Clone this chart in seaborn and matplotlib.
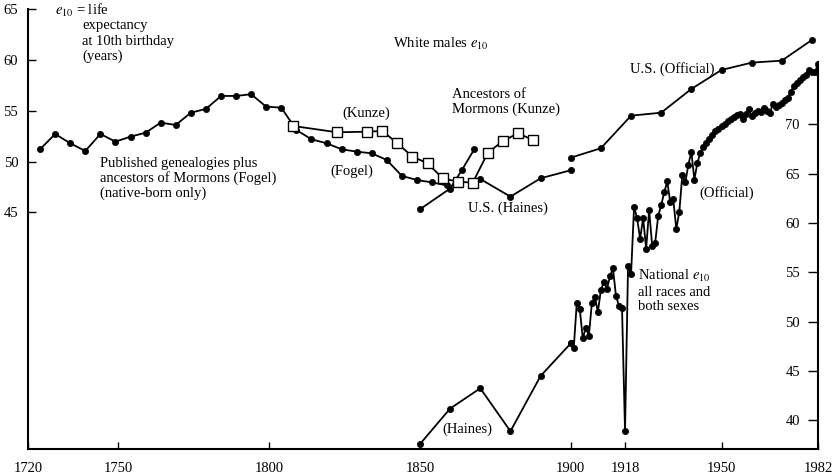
import numpy as np
import pandas as pd
import matplotlib
matplotlib.use("Agg")
import matplotlib.pyplot as plt
import seaborn as sns

# ---------------- data ----------------
# Left axis: white males e10
fogel_years = [1724, 1729, 1734, 1739, 1744, 1749, 1754, 1759, 1764, 1769,
               1774, 1779, 1784, 1789, 1794, 1799, 1804, 1809, 1814, 1819,
               1824, 1829, 1834, 1839, 1844, 1849, 1854, 1859]
fogel_vals = [51.23, 52.73, 51.82, 51.06, 52.73, 51.98, 52.47, 52.86, 53.85, 53.62,
              54.83, 55.20, 56.48, 56.48, 56.65, 55.42, 55.33, 53.13, 52.21, 51.82,
              51.23, 50.99, 50.83, 50.17, 48.60, 48.20, 47.96, 47.66]

kunze_years = [1808, 1822.5, 1832.5, 1837.5, 1842.5, 1847.5, 1852.5, 1857.5,
               1862.5, 1867.5, 1872.5, 1877.5, 1882.5, 1887.5]
kunze_vals = [53.52, 52.90, 52.96, 53.03, 51.82, 50.50, 49.85, 48.37,
              48.03, 47.94, 50.89, 52.04, 52.80, 52.14]

haines_a_years = [1850, 1860, 1864, 1868]
haines_a_vals = [45.32, 47.36, 49.23, 51.23]

haines_b_years = [1870, 1880, 1890, 1900]
haines_b_vals = [48.30, 46.56, 48.37, 49.16]

official_years = [1900, 1910, 1920, 1930, 1940, 1950, 1960, 1970, 1980]
official_vals = [50.40, 51.33, 54.54, 54.83, 57.17, 59.04, 59.76, 59.96, 62.0]

# Right axis: national e10, all races and both sexes
haines_nat_years = [1850, 1860, 1870, 1880, 1890, 1900]
haines_nat_vals = [37.6, 41.2, 43.25, 38.9, 44.5, 47.8]

national_years = list(range(1900, 1983))
national_vals = [
    47.8, 47.35, 51.9, 51.25, 48.3, 49.4, 48.55, 51.85, 52.5, 51.0,
    53.2, 54.05, 53.3, 54.6, 55.4, 52.6, 51.6, 51.4, 38.9,
    55.6, 54.8, 61.6, 60.5, 58.4, 60.5, 57.4, 61.3, 57.7, 58.0,
    60.7, 61.8, 63.1, 64.2, 62.1, 62.4, 59.4, 61.1, 64.9, 64.1,
    65.9, 67.2, 64.4, 66.1, 67.1, 67.7, 68.1, 68.5, 68.9, 69.3,
    69.5, 69.8, 70.0, 70.3, 70.5, 70.7, 70.9, 71.0, 70.5, 71.0,
    71.5, 70.85, 71.1, 71.35, 71.2, 71.6, 71.3, 71.1, 72.05, 71.7,
    71.9, 72.2, 72.5, 72.7, 73.3, 73.9, 74.2, 74.5, 74.8, 75.0,
    75.5, 75.3, 75.3, 76.1,
]

x_ticks = [1720, 1750, 1800, 1850, 1900, 1918, 1950, 1982]
left_ticks = [45, 50, 55, 60, 65]
right_ticks = [40, 45, 50, 55, 60, 65, 70]

# ---------------- style ----------------
sns.set_style("ticks")
plt.rcParams['font.family'] = ['Liberation Serif', 'DejaVu Serif']
plt.rcParams['mathtext.fontset'] = 'stix'

W, H = 832, 475
fig = plt.figure(figsize=(W / 100, H / 100), dpi=100)
ax = fig.add_axes([28 / W, 1 - 449 / H, (818 - 28) / W, (449 - 5) / H])
ax2 = ax.twinx()

lw = 1.3
dot = dict(color='k', marker='o', markersize=4.5, markeredgecolor='k',
           markeredgewidth=0.5, linewidth=lw)
sq = dict(color='k', marker='s', markersize=7.5, markerfacecolor='white',
          markeredgecolor='k', markeredgewidth=1.0, linewidth=lw)

sns.lineplot(x=fogel_years, y=fogel_vals, ax=ax, zorder=2, **dot)
sns.lineplot(x=haines_a_years, y=haines_a_vals, ax=ax, zorder=2, **dot)
sns.lineplot(x=haines_b_years, y=haines_b_vals, ax=ax, zorder=2, **dot)
sns.lineplot(x=official_years, y=official_vals, ax=ax, zorder=2, **dot)
sns.lineplot(x=kunze_years, y=kunze_vals, ax=ax, zorder=3, **sq)

sns.lineplot(x=haines_nat_years, y=haines_nat_vals, ax=ax2, **dot)
sns.lineplot(x=national_years, y=national_vals, ax=ax2, **dot)

ax.set_xlim(1720, 1982)
ax.set_ylim(21.7, 65.44)
ax2.set_ylim(37.1, 82.08)
ax.set_xlabel("")
ax.set_ylabel("")
ax2.set_ylabel("")

ax.set_xticks(x_ticks)
ax.set_xticklabels([str(t) for t in x_ticks])
ax.set_yticks(left_ticks)
ax.set_yticklabels([str(t) for t in left_ticks])
ax2.set_yticks(right_ticks)
ax2.set_yticklabels([str(t) for t in right_ticks])

for a in (ax, ax2):
    for s in a.spines.values():
        s.set_color('k')
        s.set_linewidth(1.5)
ax.spines['top'].set_visible(False)
ax.spines['right'].set_visible(False)
ax.spines['left'].set_bounds(21.7, 65)
ax2.spines['top'].set_visible(False)
ax2.spines['left'].set_visible(False)
ax2.spines['bottom'].set_visible(False)
ax2.spines['right'].set_bounds(37.1, 76.3)

ax.tick_params(axis='x', direction='in', length=5, width=1, pad=9,
               labelsize=10.5, colors='k')
ax.tick_params(axis='y', direction='in', length=6, width=1, pad=7,
               labelsize=10.5, colors='k')
ax2.tick_params(axis='y', direction='in', length=7, width=1, pad=-13,
                labelsize=10.5, colors='k')
plt.setp(ax2.get_yticklabels(), ha='right')

# ---------------- annotations (figure pixel positions) ----------------
def label(px, py, s, ha='left'):
    fig.text(px / W, 1 - py / H, s, ha=ha, va='center', fontsize=10.5, color='k')

label(55, 10, r"$e_{10}$ = life")
label(82, 26, "expectancy")
label(82, 42, "at 10th birthday")
label(82, 56, "(years)")
label(393, 44, r"White males $e_{10}$")
label(100, 163, "Published genealogies plus")
label(100, 178, "ancestors of Mormons (Fogel)")
label(100, 193, "(native-born only)")
label(342, 113, "(Kunze)")
label(330, 171, "(Fogel)")
label(452, 94, "Ancestors of")
label(452, 109, "Mormons (Kunze)")
label(468, 208, "U.S. (Haines)")
label(630, 69, "U.S. (Official)")
label(699, 193, "(Official)")
label(638, 276, r"National $e_{10}$")
label(638, 292, "all races and")
label(638, 306, "both sexes")
label(442, 429, "(Haines)")

fig.savefig("out.png", dpi=100)
